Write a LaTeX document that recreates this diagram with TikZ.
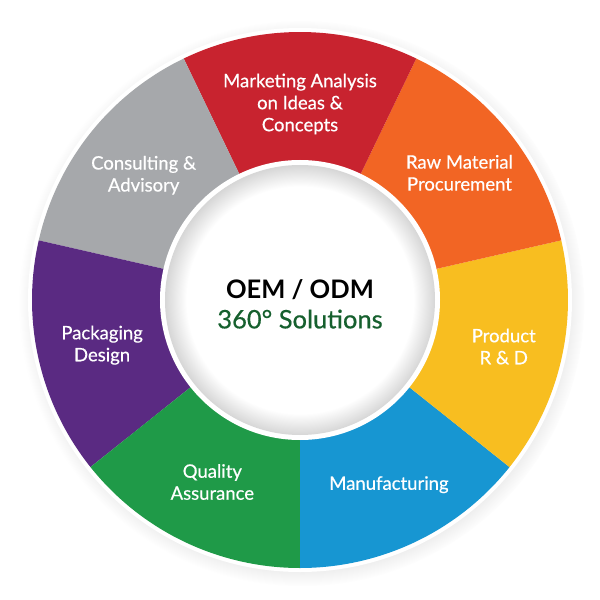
\documentclass[tikz,border=0pt]{standalone}
\usepackage{fontspec}
\setmainfont{Lato}
\newfontfamily\seglabelfont[FakeBold=0.5]{Lato}
\usepackage{tikz}
\usetikzlibrary{shadows}

\definecolor{segblue}{HTML}{1796D2}
\definecolor{segyellow}{HTML}{F8BE20}
\definecolor{segorange}{HTML}{F26524}
\definecolor{segred}{HTML}{C8232F}
\definecolor{seggray}{HTML}{A6A8AB}
\definecolor{segpurple}{HTML}{5A2A82}
\definecolor{seggreen}{HTML}{1F9A48}
\definecolor{oemgreen}{HTML}{16602E}

\pgfdeclareradialshading{innerglow}{\pgfpoint{0bp}{0bp}}{color(0bp)=(white); color(21bp)=(white); color(25bp)=(black!16); color(50bp)=(black!16)}

\begin{document}
\begin{tikzpicture}[x=1pt,y=1pt]
	\tikzstyle{seglabel}=[align=center,text=white,font=\seglabelfont\fontsize{18.5}{22}\selectfont]
	\useasboundingbox (-300,-300) rectangle (300,300);
	% outer white rim
	\fill[white,circular drop shadow={shadow xshift=2pt,shadow yshift=-3pt,shadow scale=1.04,opacity=0.35}] (0,0) circle (272);
	% the seven segments
	\foreach \a/\c/\r/\n/\t in {-90/segblue/205/manu/Manufacturing,
		-38.57/segyellow/209/prod/{Product\\R \& D},
		12.86/segorange/204/raw/{Raw Material\\Procurement},
		64.29/segred/196/mark/{Marketing Analysis\\on Ideas \&\\Concepts},
		115.71/seggray/200/cons/{Consulting \&\\Advisory},
		167.14/segpurple/203/pack/{Packaging\\Design},
		218.57/seggreen/202/qual/{Quality\\Assurance}}{
		\fill[\c] (\a:138) arc[start angle=\a,delta angle=51.43,radius=138] -- (\a+51.43:268) arc[start angle=\a+51.43,delta angle=-51.43,radius=268] -- cycle;
		\node[seglabel](\n) at (\a+25.71:\r) {\t};
	}
	% centre disc
	\fill[white] (0,0) circle (140);
	\shade[shading=innerglow] (0,0) circle (135);
	\node[align=center,font=\fontsize{25.5}{30}\selectfont](oem) at (0,-4) {{\bfseries OEM / ODM}\\{\seglabelfont\color{oemgreen}360° Solutions}};
\end{tikzpicture}
\end{document}
